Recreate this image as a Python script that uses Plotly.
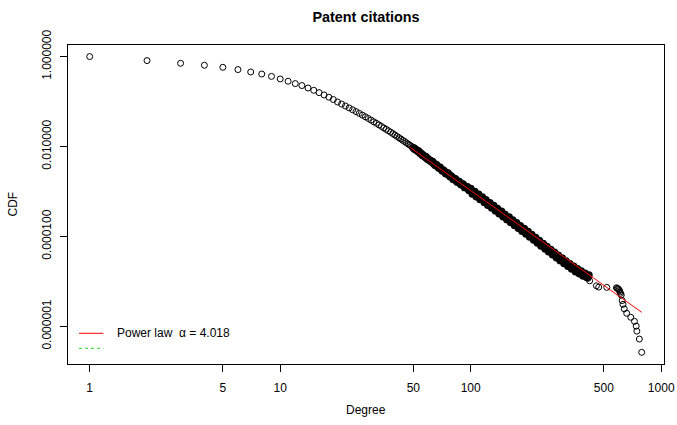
import plotly.graph_objects as go

# ---- data (degree, CDF) ----
deg_low = [1, 2, 3, 4, 5, 6, 7, 8, 9, 10, 11, 12, 13, 14, 15, 16, 17, 18, 19, 20,
           21, 22, 23, 24, 25, 26, 27, 28, 29, 30, 31, 32, 33, 34, 35, 36, 37, 38, 39, 40,
           41, 42, 43, 44, 45, 46, 47, 48, 49]
cdf_low = [1.0, 0.815, 0.710, 0.641, 0.578, 0.514, 0.455, 0.410, 0.363, 0.319,
           0.283, 0.251, 0.227, 0.200, 0.178, 0.158, 0.140, 0.125, 0.111, 0.0977,
           0.0879, 0.0796, 0.0722, 0.0656, 0.0598, 0.0546, 0.0499, 0.0457, 0.0420, 0.0386,
           0.0355, 0.0328, 0.0303, 0.0280, 0.0259, 0.0241, 0.0224, 0.0208, 0.0194, 0.0180,
           0.0168, 0.0157, 0.0147, 0.0137, 0.0129, 0.0121, 0.0113, 0.0107, 0.0100]

# dense band (upper/lower edges of the thick black band)
deg_band = [50, 51, 53, 54, 55, 56, 58, 59, 60, 62,
            63, 65, 66, 68, 69, 71, 72, 74, 76, 78,
            79, 81, 83, 85, 87, 89, 91, 93, 96, 98,
            100, 102, 105, 107, 110, 112, 115, 118, 120, 123,
            126, 129, 132, 135, 138, 141, 145, 148, 151, 155,
            159, 162, 166, 170, 174, 178, 182, 186, 191, 195,
            200, 204, 209, 214, 219, 224, 229, 234, 240, 246,
            251, 257, 263, 269, 275, 282, 288, 295, 302, 309,
            316, 324, 331, 339, 347, 355, 363, 372, 380, 389,
            398, 407, 417]
cdf_band = [9.33e-3, 8.65e-3, 8.02e-3, 7.43e-3, 6.88e-3, 6.38e-3, 5.92e-3, 5.50e-3, 5.11e-3, 4.74e-3,
            4.61e-3, 3.90e-3, 3.97e-3, 3.37e-3, 3.43e-3, 2.90e-3, 2.95e-3, 2.50e-3, 2.55e-3, 2.16e-3,
            2.20e-3, 1.87e-3, 1.91e-3, 1.63e-3, 1.66e-3, 1.42e-3, 1.45e-3, 1.23e-3, 1.26e-3, 1.07e-3,
            1.15e-3, 8.89e-4, 9.94e-4, 7.70e-4, 8.62e-4, 6.67e-4, 7.46e-4, 5.78e-4, 6.47e-4, 5.00e-4,
            5.60e-4, 4.33e-4, 4.83e-4, 3.73e-4, 4.16e-4, 3.22e-4, 3.59e-4, 2.77e-4, 3.10e-4, 2.39e-4,
            2.67e-4, 2.06e-4, 2.30e-4, 1.78e-4, 1.99e-4, 1.53e-4, 1.71e-4, 1.32e-4, 1.48e-4, 1.14e-4,
            1.27e-4, 9.80e-5, 1.09e-4, 8.42e-5, 9.37e-5, 7.22e-5, 8.04e-5, 6.20e-5, 6.90e-5, 5.32e-5,
            5.93e-5, 4.58e-5, 5.11e-5, 3.95e-5, 4.41e-5, 3.40e-5, 3.80e-5, 2.93e-5, 3.28e-5, 2.53e-5,
            2.82e-5, 2.19e-5, 2.46e-5, 1.91e-5, 2.14e-5, 1.66e-5, 1.89e-5, 1.49e-5, 1.69e-5, 1.33e-5,
            1.51e-5, 1.23e-5, 1.38e-5]

# dense band (centre line of the thick black band)
deg_mid = [50.7, 51.9, 53.1, 54.3, 55.6, 56.9, 58.2, 59.6, 61.0, 62.4,
           63.8, 65.3, 66.8, 68.4, 70.0, 71.6, 73.3, 75.0, 76.7, 78.5,
           80.4, 82.2, 84.1, 86.1, 88.1, 90.2, 92.3, 94.4, 96.6, 98.9,
           101.2, 103.5, 105.9, 108.4, 110.9, 113.5, 116.1, 118.9, 121.6, 124.4,
           127.4, 130.3, 133.3, 136.5, 139.6, 142.9, 146.2, 149.6, 153.2, 156.7,
           160.3, 164.1, 167.9, 171.8, 175.8, 179.9, 184.1, 188.4, 192.7, 197.3,
           201.8, 206.6, 211.3, 216.3, 221.3, 226.5, 231.8, 237.1, 242.7, 248.3,
           254.1, 260.0, 266.1, 272.3, 278.6, 285.1, 291.7, 298.5, 305.5, 312.6,
           319.9, 327.4, 334.9, 342.7, 350.7, 358.9, 367.3, 375.8, 384.6, 393.5,
           402.7, 412.1]
cdf_mid = [8.99e-3, 8.33e-3, 7.72e-3, 7.15e-3, 6.62e-3, 6.14e-3, 5.70e-3, 5.30e-3, 4.92e-3, 4.57e-3,
           4.24e-3, 3.94e-3, 3.66e-3, 3.40e-3, 3.15e-3, 2.93e-3, 2.72e-3, 2.52e-3, 2.35e-3, 2.18e-3,
           2.03e-3, 1.89e-3, 1.76e-3, 1.65e-3, 1.53e-3, 1.43e-3, 1.34e-3, 1.25e-3, 1.16e-3, 1.08e-3,
           1.01e-3, 9.40e-4, 8.75e-4, 8.15e-4, 7.58e-4, 7.06e-4, 6.57e-4, 6.11e-4, 5.69e-4, 5.29e-4,
           4.92e-4, 4.57e-4, 4.24e-4, 3.94e-4, 3.66e-4, 3.40e-4, 3.16e-4, 2.93e-4, 2.72e-4, 2.53e-4,
           2.35e-4, 2.18e-4, 2.02e-4, 1.88e-4, 1.74e-4, 1.62e-4, 1.50e-4, 1.40e-4, 1.30e-4, 1.20e-4,
           1.12e-4, 1.03e-4, 9.59e-5, 8.88e-5, 8.23e-5, 7.62e-5, 7.06e-5, 6.54e-5, 6.06e-5, 5.62e-5,
           5.21e-5, 4.84e-5, 4.49e-5, 4.17e-5, 3.87e-5, 3.60e-5, 3.34e-5, 3.10e-5, 2.88e-5, 2.67e-5,
           2.49e-5, 2.32e-5, 2.17e-5, 2.02e-5, 1.88e-5, 1.77e-5, 1.67e-5, 1.58e-5, 1.50e-5, 1.42e-5,
           1.35e-5, 1.29e-5]

deg_tail = [413, 421, 457, 470, 518, 582, 588, 594, 600, 604, 608, 612, 617, 624, 630,
            640, 659, 692, 724, 739, 745, 768, 790]
cdf_tail = [1.17e-5, 1.03e-5, 7.98e-6, 7.47e-6, 7.36e-6, 7.20e-6, 7.00e-6, 6.80e-6, 6.50e-6,
            6.20e-6, 5.80e-6, 5.40e-6, 4.96e-6, 3.74e-6, 3.08e-6, 2.45e-6, 1.95e-6, 1.59e-6,
            1.29e-6, 1.01e-6, 7.82e-7, 5.22e-7, 2.64e-7]

# fitted power law (alpha = 4.018), drawn from xmin to xmax
fit_x = [48, 790]
fit_y = [9.60e-3, 2.05e-6]
fit_label = "Power law  \u03b1 = 4.018"

x_ticks = [1, 5, 10, 50, 100, 500, 1000]
x_tick_labels = ["1", "5", "10", "50", "100", "500", "1000"]
y_ticks = [1, 1e-2, 1e-4, 1e-6]
y_tick_labels = ["1.000000", "0.010000", "0.000100", "0.000001"]

FONT = "Liberation Sans, Arial, Helvetica, sans-serif"

fig = go.Figure()
# sparse circles (low degrees and the tail)
fig.add_trace(go.Scatter(
    x=deg_low + deg_tail, y=cdf_low + cdf_tail, mode="markers",
    marker=dict(symbol="circle-open", size=6, color="black",
                line=dict(width=1, color="black")),
    showlegend=False, hoverinfo="x+y", cliponaxis=False))
# heavily over-plotted band of circles
fig.add_trace(go.Scatter(
    x=deg_band + deg_mid, y=cdf_band + cdf_mid, mode="markers",
    marker=dict(symbol="circle-open", size=6, color="black",
                line=dict(width=1.8, color="black")),
    showlegend=False, hoverinfo="x+y", cliponaxis=False))
fig.add_trace(go.Scatter(
    x=fit_x, y=fit_y, mode="lines",
    line=dict(color="#FF0000", width=1), showlegend=False))

# plot area: x 68..664 px, y 45..364 px
L, R, T, B = 68, 664, 45, 364
W, H = R - L, B - T


def px(xp):
    return (xp - L) / W


def py(yp):
    return (B - yp) / H


axis_common = dict(
    showline=True, linecolor="black", linewidth=1, mirror=True,
    ticks="outside", ticklen=7, tickwidth=1, tickcolor="black",
    showgrid=False, zeroline=False, automargin=False,
    tickfont=dict(family=FONT, size=12, color="black"),
)

fig.update_layout(
    width=677, height=425,
    margin=dict(l=L, r=677 - R, t=T, b=425 - B, autoexpand=False),
    paper_bgcolor="white", plot_bgcolor="white",
    font=dict(family=FONT, size=12, color="black"),
    title=dict(text="<b>Patent citations</b>", x=(L + R) / 2 / 677, xanchor="center",
               y=1 - 16.5 / 425, yanchor="middle",
               font=dict(family=FONT, size=14.4, color="black")),
    xaxis=dict(type="log", range=[-0.1139, 3.0147], tickvals=x_ticks,
               ticktext=x_tick_labels, ticklabelstandoff=6, **axis_common),
    yaxis=dict(type="log", range=[-6.838, 0.258], tickvals=y_ticks,
               ticktext=y_tick_labels, tickangle=-90, ticklabelstandoff=4,
               **axis_common),
    shapes=[
        dict(type="line", xref="paper", yref="paper",
             x0=px(79), x1=px(103.3), y0=py(333.3), y1=py(333.3),
             line=dict(color="#FF0000", width=1)),
        dict(type="line", xref="paper", yref="paper",
             x0=px(79), x1=px(103.3), y0=py(348.3), y1=py(348.3),
             line=dict(color="#22DD22", width=1, dash="3px,3px")),
    ],
    annotations=[
        dict(text=fit_label, xref="paper", yref="paper", x=px(114.5), y=py(333.3),
             xanchor="left", yanchor="middle", showarrow=False,
             font=dict(family=FONT, size=12, color="black")),
        dict(text="Degree", xref="paper", yref="paper", x=0.5, y=py(410),
             xanchor="center", yanchor="middle", showarrow=False,
             font=dict(family=FONT, size=12, color="black")),
        dict(text="CDF", xref="paper", yref="paper", x=px(12), y=0.5,
             xanchor="center", yanchor="middle", textangle=-90, showarrow=False,
             font=dict(family=FONT, size=12, color="black")),
    ],
)

fig.write_html("out.html", config={"displayModeBar": False},
               post_script="document.body.style.margin='0px';")
